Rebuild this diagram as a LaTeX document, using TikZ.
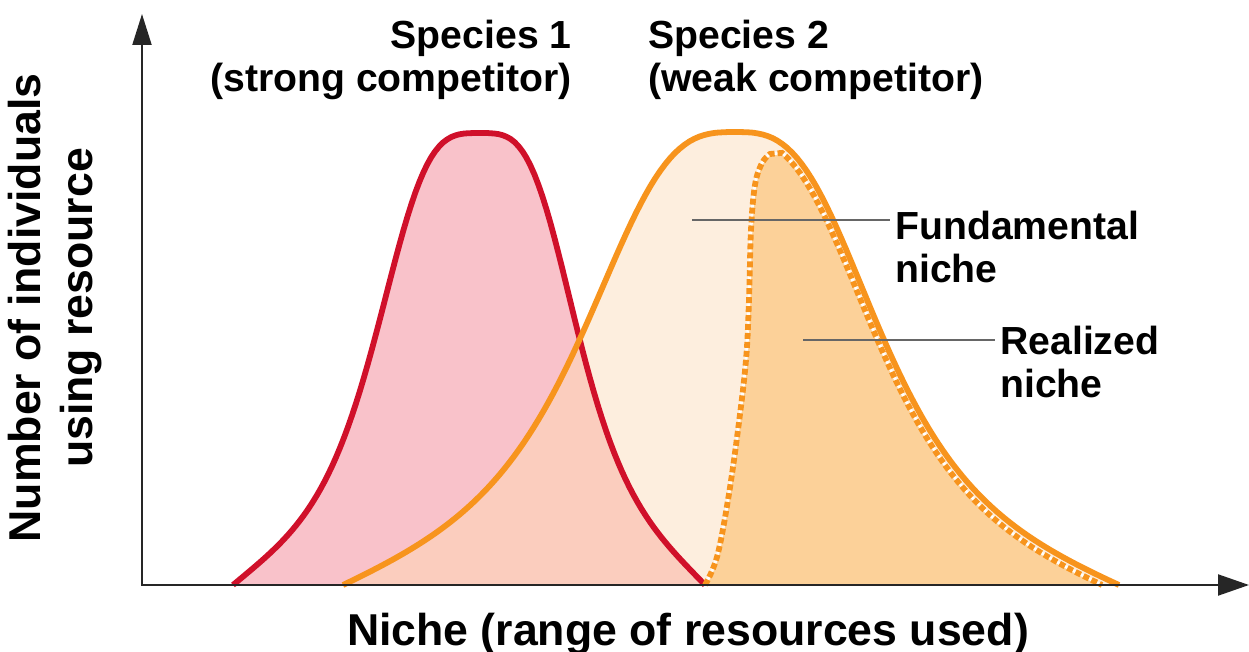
\documentclass[tikz,border=0pt]{standalone}
\usepackage{fontspec}
\setmainfont{Liberation Sans}
\usepackage{tikz}
\usetikzlibrary{arrows.meta}
\definecolor{sponered}{RGB}{208,16,42}
\definecolor{sptwoorange}{RGB}{247,148,29}
\definecolor{sponefill}{RGB}{249,194,202}
\definecolor{bothfill}{RGB}{251,205,190}
\definecolor{fundfill}{RGB}{253,238,222}
\definecolor{realfill}{RGB}{252,209,153}
\tikzset{declare function={
  bump(\d,\s,\q,\w,\m) = max(1-pow(abs(\d)/\w,\m),0)/(1+pow(abs(\d)/\s+0.001,\q));
  redh(\x) = 452*((\x<480) ? bump(\x-480,111,3.5,247,8) : bump(\x-480,105,3.5,225,8));
  orah(\x) = 453*((\x<735) ? bump(\x-735,165,3,392,6) : bump(\x-735,158,3,384,6));
}}

\begin{document}
\begin{tikzpicture}[x=0.02cm, y=-0.02cm]
\tikzstyle{popcurve}=[line width=3.3pt, line join=round]
\tikzstyle{realline}=[line width=3.3pt, draw=sptwoorange, dash pattern=on 3.4pt off 1.7pt]
\tikzstyle{axisline}=[line width=1.2pt, draw=black!85, {Triangle[length=0.62cm,width=0.38cm]}-{Triangle[length=0.62cm,width=0.42cm]}]
\tikzstyle{pointer}=[line width=0.7pt, draw=black!60, shorten >=3pt]
\tikzstyle{nichetext}=[inner sep=0pt, font=\fontsize{22.3}{24.4}\selectfont\bfseries]
\tikzstyle{axistext}=[inner sep=0pt, font=\fontsize{25.4}{30}\selectfont\bfseries, align=center]

\useasboundingbox (0,0) rectangle (1249,652);

% the three curves
\def\redcurve{plot[domain=233:705, samples=120] (\x, {585-redh(\x)})}
\def\orangecurve{plot[domain=343:1119, samples=160] (\x, {585-orah(\x)})}
\def\realcurve{plot[smooth, tension=0.6] coordinates {(705,585) (717,557) (728,500) (738,430) (746,360) (749,300) (751,230) (755,185) (762,163) (770,154)}
  -- plot[domain=782:1102, samples=90] (\x, {min(585, 591-orah(\x+4))})}

\fill[fundfill] \orangecurve -- cycle;
\fill[realfill] \realcurve -- cycle;
\fill[sponefill] \redcurve -- cycle;
\begin{scope}
\clip \redcurve -- cycle;
\fill[bothfill] \orangecurve -- cycle;
\end{scope}

\draw[popcurve, sponered] \redcurve;
\draw[popcurve, sptwoorange] \orangecurve;
\draw[white, line width=1.6pt] \realcurve;
\draw[realline] \realcurve;

% axes
\coordinate (O) at (142,585);
\coordinate (ytip) at (142,14);
\coordinate (xtip) at (1249,585);
\draw[axisline] (ytip) -- (O) -- (xtip);

\node[axistext, rotate=90] (ylab) at (55,308) {Number of individuals\\using resource};
\node[axistext, anchor=base] (xlab) at (688,645) {Niche (range of resources used)};

\node[nichetext, anchor=north east, align=right] (sp1) at (572,20) {Species 1\\(strong competitor)};
\node[nichetext, anchor=north west, align=left] (sp2) at (648,20) {Species 2\\(weak competitor)};
\node[nichetext, anchor=north west, align=left] (fund) at (895,211) {Fundamental\\niche};
\node[nichetext, anchor=north west, align=left] (real) at (1000,326) {Realized\\niche};

\coordinate (fundpt) at (692,220);
\coordinate (realpt) at (803,340);
\draw[pointer] (fundpt) -- (fundpt -| fund.west);
\draw[pointer] (realpt) -- (realpt -| real.west);

\end{tikzpicture}
\end{document}
